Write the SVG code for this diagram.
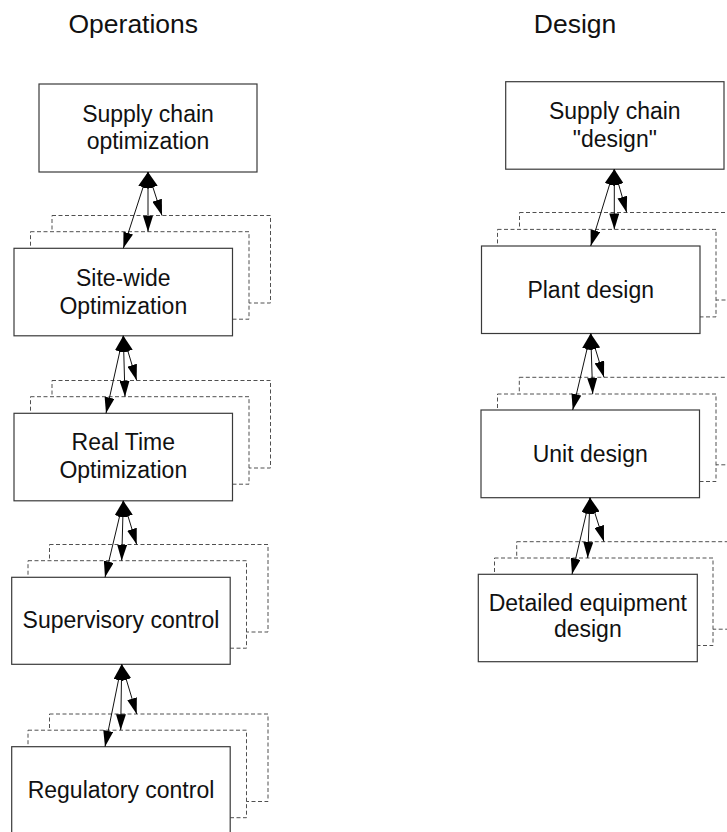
<svg xmlns="http://www.w3.org/2000/svg" width="727" height="832" viewBox="0 0 727 832">
  <style>
    .main { fill: #ffffff; stroke: #3a3a3a; stroke-width: 1.2; }
    .copy { fill: #ffffff; stroke: #505050; stroke-width: 1; stroke-dasharray: 4 2.5; }
    .lbl { font-family: "Liberation Sans", Arial, sans-serif; font-size: 23px; fill: #111111; text-anchor: middle; }
    .title { font-family: "Liberation Sans", Arial, sans-serif; font-size: 26.5px; fill: #111111; text-anchor: middle; }
    .link { stroke: #111111; stroke-width: 1; fill: none; marker-start: url(#head); marker-end: url(#head); }
  </style>
  <defs>
    <marker id="head" viewBox="0 0 16 10" refX="16" refY="5" markerWidth="16" markerHeight="10" markerUnits="userSpaceOnUse" orient="auto-start-reverse">
      <path d="M0,0 L16,5 L0,10 z" fill="#000000"/>
    </marker>
  </defs>
  <rect width="727" height="832" fill="#ffffff"/>

  <!-- column headings -->
  <text class="title" x="133.3" y="33.3">Operations</text>
  <text class="title" x="575" y="33.3">Design</text>

  <!-- Operations hierarchy -->
  <g id="supply-chain-optimization">
    <rect class="main" x="39" y="84" width="218" height="88"/>
    <text class="lbl" x="148" y="121.7">Supply chain</text>
    <text class="lbl" x="148" y="149">optimization</text>
  </g>
  <g id="site-wide-optimization">
    <rect class="copy" x="52" y="215.5" width="218.5" height="87.5"/>
    <rect class="copy" x="30.5" y="231.7" width="218.5" height="87.5"/>
    <rect class="main" x="14" y="248.3" width="218.5" height="87.5"/>
    <text class="lbl" x="123.3" y="286">Site-wide</text>
    <text class="lbl" x="123.3" y="314">Optimization</text>
  </g>
  <g id="real-time-optimization">
    <rect class="copy" x="52" y="380.5" width="218.5" height="87.5"/>
    <rect class="copy" x="30.5" y="396.7" width="218.5" height="87.5"/>
    <rect class="main" x="14" y="413.3" width="218.5" height="87.5"/>
    <text class="lbl" x="123.3" y="450.3">Real Time</text>
    <text class="lbl" x="123.3" y="478.3">Optimization</text>
  </g>
  <g id="supervisory-control">
    <rect class="copy" x="49.5" y="544.5" width="218.5" height="87.5"/>
    <rect class="copy" x="28" y="560.7" width="218.5" height="87.5"/>
    <rect class="main" x="11.7" y="577.3" width="218.5" height="87"/>
    <text class="lbl" x="121" y="627.7">Supervisory control</text>
  </g>
  <g id="regulatory-control">
    <rect class="copy" x="49.5" y="714" width="218.5" height="87.5"/>
    <rect class="copy" x="28" y="730.2" width="218.5" height="87.5"/>
    <rect class="main" x="11.7" y="746.7" width="218.5" height="87.5"/>
    <text class="lbl" x="121" y="798.3">Regulatory control</text>
  </g>

  <!-- Design hierarchy -->
  <g id="supply-chain-design">
    <rect class="main" x="505.7" y="81.7" width="218.3" height="87.5"/>
    <text class="lbl" x="614.8" y="119">Supply chain</text>
    <text class="lbl" x="614.8" y="146.7">"design"</text>
  </g>
  <g id="plant-design">
    <rect class="copy" x="519.5" y="212.5" width="218.5" height="87.5"/>
    <rect class="copy" x="497.5" y="229.4" width="218.5" height="87.5"/>
    <rect class="main" x="481.5" y="246" width="218.5" height="87.5"/>
    <text class="lbl" x="590.7" y="297.7">Plant design</text>
  </g>
  <g id="unit-design">
    <rect class="copy" x="519.3" y="377.3" width="218.5" height="87.5"/>
    <rect class="copy" x="497.5" y="394" width="218.5" height="87.5"/>
    <rect class="main" x="481" y="410" width="218.5" height="87.7"/>
    <text class="lbl" x="590.2" y="461.7">Unit design</text>
  </g>
  <g id="detailed-equipment-design">
    <rect class="copy" x="516.7" y="541.7" width="218.5" height="87.5"/>
    <rect class="copy" x="494.5" y="558" width="218.5" height="87.5"/>
    <rect class="main" x="478.3" y="574.3" width="219" height="87.4"/>
    <text class="lbl" x="587.8" y="610.7">Detailed equipment</text>
    <text class="lbl" x="587.8" y="637.3">design</text>
  </g>

  <!-- two-way links from each level to the level below and its copies -->
  <g id="connectors">
    <line class="link" x1="148" y1="172" x2="123.3" y2="248.3"/>
    <line class="link" x1="148" y1="172" x2="148" y2="231.7"/>
    <line class="link" x1="148" y1="172" x2="162" y2="215.5"/>

    <line class="link" x1="123.3" y1="335.8" x2="106" y2="413.3"/>
    <line class="link" x1="123.3" y1="335.8" x2="125" y2="396.7"/>
    <line class="link" x1="123.3" y1="335.8" x2="136.7" y2="380.5"/>

    <line class="link" x1="123.3" y1="500.8" x2="105" y2="577.3"/>
    <line class="link" x1="123.3" y1="500.8" x2="121.7" y2="560.7"/>
    <line class="link" x1="123.3" y1="500.8" x2="136.7" y2="544.5"/>

    <line class="link" x1="121.7" y1="664.3" x2="105" y2="746.7"/>
    <line class="link" x1="121.7" y1="664.3" x2="120.7" y2="730.2"/>
    <line class="link" x1="121.7" y1="664.3" x2="136.7" y2="714"/>

    <line class="link" x1="614.3" y1="169.2" x2="590.7" y2="246"/>
    <line class="link" x1="614.3" y1="169.2" x2="614.3" y2="229.4"/>
    <line class="link" x1="614.3" y1="169.2" x2="626.7" y2="212.5"/>

    <line class="link" x1="590.7" y1="333.5" x2="572.7" y2="410"/>
    <line class="link" x1="590.7" y1="333.5" x2="592.7" y2="394"/>
    <line class="link" x1="590.7" y1="333.5" x2="604" y2="377.3"/>

    <line class="link" x1="590" y1="497.7" x2="572" y2="574.3"/>
    <line class="link" x1="590" y1="497.7" x2="587.7" y2="558"/>
    <line class="link" x1="590" y1="497.7" x2="604" y2="541.7"/>
  </g>
</svg>
